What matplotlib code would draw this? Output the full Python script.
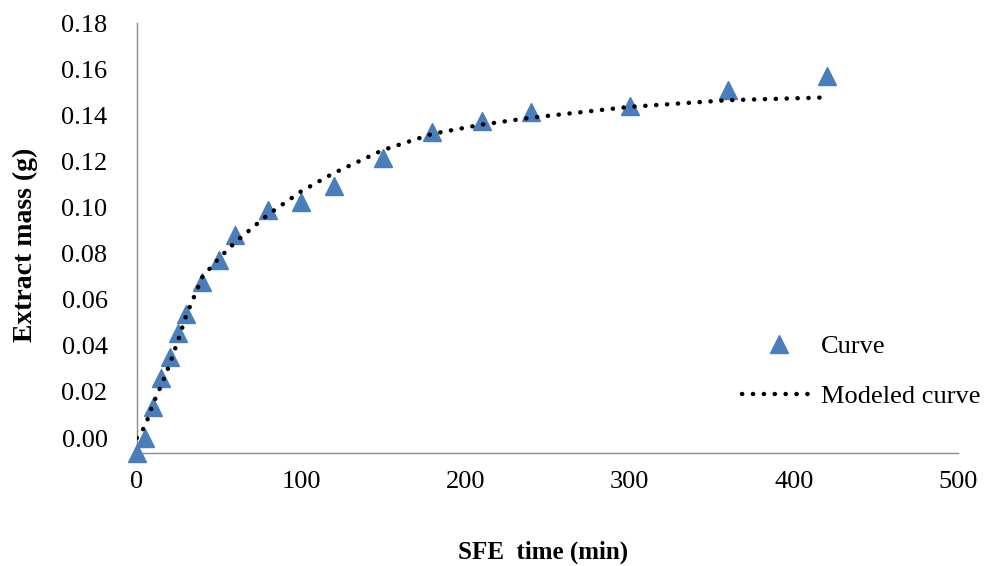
import matplotlib
matplotlib.use('Agg')
import matplotlib.pyplot as plt

plt.rcParams['font.family'] = ['Liberation Serif', 'DejaVu Serif']

# measured extraction points
t_curve = [0, 5, 10, 15, 20, 25, 30, 40, 50, 60, 80, 100, 120, 150, 180, 210, 240, 300, 360, 420]
m_curve = [-0.0065, 0.000, 0.0135, 0.026, 0.035, 0.0455, 0.054, 0.0677, 0.0772, 0.088, 0.099,
           0.1024, 0.1093, 0.1215, 0.1328, 0.1375, 0.1414, 0.144, 0.151, 0.157]

# modeled curve
t_model = [0, 5, 10, 15, 20, 25, 30, 40, 50, 60, 80, 100, 120, 150, 180, 210, 240, 300, 360, 420]
m_model = [0.000, 0.005, 0.015, 0.023, 0.032, 0.042, 0.053, 0.070, 0.078, 0.085, 0.097,
           0.107, 0.115, 0.125, 0.132, 0.136, 0.139, 0.1437, 0.1466, 0.1478]

x_ticks = [0, 100, 200, 300, 400, 500]
y_ticks = [0.00, 0.02, 0.04, 0.06, 0.08, 0.10, 0.12, 0.14, 0.16, 0.18]

fig = plt.figure(figsize=(9.84, 5.66), dpi=100)
ax = fig.add_axes([0.139, 0.1996, 0.8346, 0.7594])

ax.plot(t_curve, m_curve, linestyle='none', marker='^', markersize=13,
        color='#4A7EBB', label='Curve', zorder=3, clip_on=False)
ax.plot(t_model, m_model, color='black', linewidth=3.2, linestyle=(0, (0.05, 2.4)),
        dash_capstyle='round', label='Modeled curve', zorder=4)

ax.set_xlim(0, 500)
ax.set_ylim(-0.0065, 0.18)
ax.set_xticks(x_ticks)
ax.set_yticks(y_ticks)
ax.set_yticklabels([f'{v:.2f}' for v in y_ticks])

for s in ['top', 'right']:
    ax.spines[s].set_visible(False)
for s in ['left', 'bottom']:
    ax.spines[s].set_color('#8c8c8c')
    ax.spines[s].set_linewidth(1.0)

ax.tick_params(axis='both', length=0, labelsize=19, colors='black')
ax.tick_params(axis='y', pad=21)
ax.tick_params(axis='x', pad=13)

fig.text(25 / 984, 1 - 245 / 566, 'Extract mass (g)', rotation=90, ha='center', va='center',
         fontsize=20, fontweight='bold')
fig.text(543 / 984, 1 - 552 / 566, 'SFE  time (min)', ha='center', va='center',
         fontsize=18, fontweight='bold')

ax.legend(loc='upper left', bbox_to_anchor=(0.7365, 0.276), frameon=False, fontsize=19,
          handlelength=2.8, handletextpad=0.2, labelspacing=1.02, borderaxespad=0,
          borderpad=0)

fig.savefig('out.png', dpi=100)
